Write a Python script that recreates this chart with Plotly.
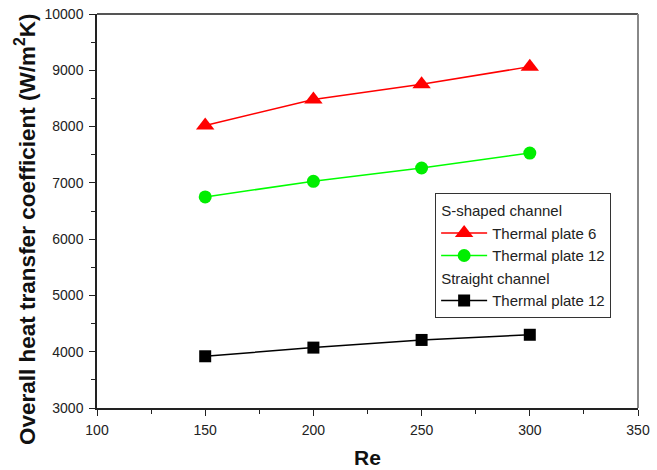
import plotly.graph_objects as go

re_vals = [150, 200, 250, 300]
s_plate6 = [8020, 8480, 8750, 9065]
s_plate12 = [6750, 7028, 7264, 7530]
straight_plate12 = [3919, 4073, 4209, 4301]

font_family = "Arial, Liberation Sans, sans-serif"

fig = go.Figure()
fig.add_trace(go.Scatter(
    x=re_vals, y=s_plate6, mode="lines+markers", name="Thermal plate 6",
    line=dict(color="#ff0000", width=1.5),
    marker=dict(symbol="triangle-up", size=16, color="#ff0000"),
    legendgroup="s", legendgrouptitle_text="S-shaped channel",
))
fig.add_trace(go.Scatter(
    x=re_vals, y=s_plate12, mode="lines+markers", name="Thermal plate 12",
    line=dict(color="#00ff00", width=1.5),
    marker=dict(symbol="circle", size=13, color="#00ee00"),
    legendgroup="s",
))
fig.add_trace(go.Scatter(
    x=re_vals, y=straight_plate12, mode="lines+markers", name="Thermal plate 12",
    line=dict(color="#000000", width=1.5),
    marker=dict(symbol="square", size=12, color="#000000"),
    legendgroup="st", legendgrouptitle_text="Straight channel",
))

fig.update_layout(
    width=657, height=470,
    margin=dict(l=97, r=19, t=14, b=62, autoexpand=False),
    paper_bgcolor="white", plot_bgcolor="white",
    font=dict(family=font_family, color="#222222", size=14),
    showlegend=True,
    legend=dict(
        x=0.625, y=0.545, xanchor="left", yanchor="top",
        bordercolor="#333333", borderwidth=1, bgcolor="white",
        font=dict(size=15, family=font_family, color="#222222"),
        grouptitlefont=dict(size=15, family=font_family, color="#222222"),
        tracegroupgap=0, itemwidth=46,
    ),
    xaxis=dict(
        range=[100, 350], tickvals=[100, 150, 200, 250, 300, 350],
        showgrid=False, zeroline=False, automargin=False,
        showline=True, linecolor="#222222", linewidth=1.5,
        ticks="outside", ticklen=6, tickcolor="#222222", ticklabelstandoff=2,
        minor=dict(dtick=25, tick0=100, ticks="outside", ticklen=4, tickcolor="#222222"),
        tickfont=dict(size=14),
        title=dict(text="<b>Re</b>", font=dict(size=21, color="#111111"), standoff=14),
    ),
    yaxis=dict(
        range=[3000, 10000], tickvals=[3000, 4000, 5000, 6000, 7000, 8000, 9000, 10000],
        tickformat="d", automargin=False,
        showgrid=False, zeroline=False,
        showline=True, linecolor="#222222", linewidth=1.5,
        ticks="outside", ticklen=6, tickcolor="#222222", ticklabelstandoff=3,
        minor=dict(dtick=500, tick0=3000, ticks="outside", ticklen=4, tickcolor="#222222"),
        tickfont=dict(size=14),
    ),
    annotations=[
        dict(text="<b>Overall heat transfer coefficient (W/m<sup>2</sup>K)</b>",
             xref="paper", yref="paper", x=-0.133, y=0.452,
             xanchor="center", yanchor="middle", textangle=-90, showarrow=False,
             font=dict(size=22.5, color="#111111", family=font_family)),
    ],
    shapes=[
        dict(type="line", xref="paper", yref="paper", x0=0, x1=1, y0=1, y1=1,
             line=dict(color="#555555", width=2)),
        dict(type="line", xref="paper", yref="paper", x0=1, x1=1, y0=0, y1=1,
             line=dict(color="#888888", width=2)),
    ],
)

fig.write_html("out.html")
